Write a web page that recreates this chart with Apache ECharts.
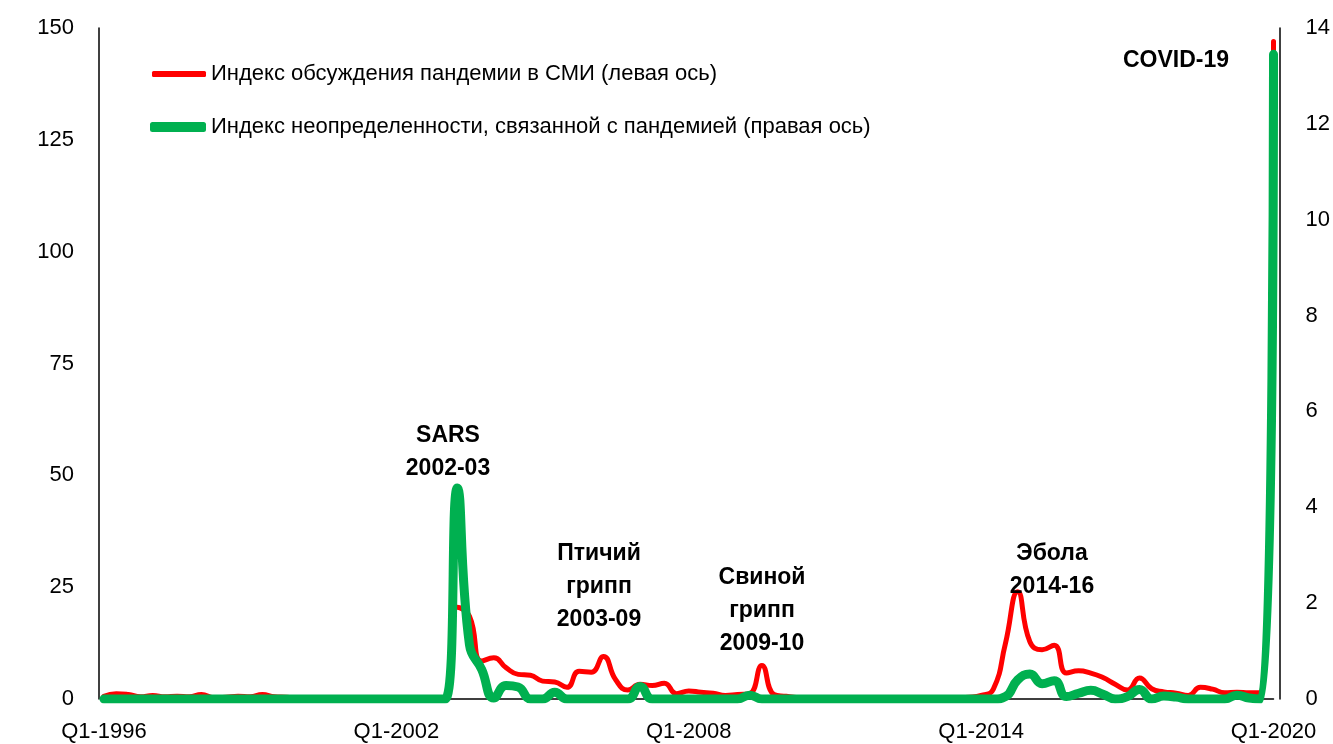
<!DOCTYPE html>
<html>
<head>
<meta charset="utf-8">
<script src="https://cdn.jsdelivr.net/npm/echarts@6/dist/echarts.min.js"></script>
<style>
  html, body { margin: 0; padding: 0; background: #ffffff; }
  #chart { width: 1333px; height: 744px; }
</style>
</head>
<body>
<div id="chart"></div>
<script>
// Quarterly categories, Q1-1996 .. Q1-2020
const quarters = [];
for (let y = 1996; y <= 2020; y++) {
  for (let q = 1; q <= 4; q++) {
    if (y === 2020 && q > 1) break;
    quarters.push('Q' + q + '-' + y);
  }
}

// Labels shown on the horizontal axis
const xTickLabels = ['Q1-1996', 'Q1-2002', 'Q1-2008', 'Q1-2014', 'Q1-2020'];

const seriesNames = [
  'Индекс обсуждения пандемии в СМИ (левая ось)',
  'Индекс неопределенности, связанной с пандемией (правая ось)'
];

// Pandemic discussion in the media (left axis), one value per quarter
const mediaIndex = [
  0.6, 1.2, 1.0, 0.5, 0.8, 0.5, 0.6, 0.5,      // 1996-1997
  1.0, 0.3, 0.4, 0.6, 0.5, 1.0, 0.5, 0.4,      // 1998-1999
  0.2, 0.1, 0.1, 0.1, 0.1, 0.1, 0.1, 0.1,      // 2000-2001
  0.1, 0.1, 0.1, 0.2, 0.3, 20.5, 18.5, 8.5,    // 2002-2003
  9.2, 7.0, 5.5, 5.3, 4.0, 3.8, 2.6, 6.2,      // 2004-2005
  6.0, 9.5, 4.3, 2.0, 3.3, 3.0, 3.5, 1.2,      // 2006-2007
  1.8, 1.5, 1.3, 0.8, 1.0, 1.2, 7.5, 1.0,      // 2008-2009
  0.6, 0.3, 0.2, 0.2, 0.2, 0.1, 0.2, 0.2,      // 2010-2011
  0.2, 0.2, 0.1, 0.2, 0.2, 0.2, 0.3, 0.4,      // 2012-2013
  0.8, 2.2, 12.5, 24.0, 12.8, 11.0, 12.0, 5.8, // 2014-2015
  6.3, 5.8, 4.8, 3.3, 2.0, 4.7, 2.3, 1.6,      // 2016-2017
  1.3, 0.8, 2.6, 2.2, 1.4, 1.5, 1.4, 1.5,      // 2018-2019
  147.0                                        // 2020 Q1
];

// Pandemic-related uncertainty (right axis), one value per quarter
const uncertaintyIndex = [
  0, 0, 0, 0, 0, 0, 0, 0,                      // 1996-1997
  0, 0, 0, 0, 0, 0, 0, 0,                      // 1998-1999
  0, 0, 0, 0, 0, 0, 0, 0,                      // 2000-2001
  0, 0, 0, 0, 0, 4.4, 1.13, 0.62,              // 2002-2003
  0.02, 0.28, 0.25, 0.0, 0.0, 0.14, 0, 0,      // 2004-2005
  0, 0, 0, 0, 0.26, 0, 0, 0,                   // 2006-2007
  0, 0, 0, 0, 0, 0.08, 0, 0,                   // 2008-2009
  0, 0, 0, 0, 0, 0, 0, 0,                      // 2010-2011
  0, 0, 0, 0, 0, 0, 0, 0,                      // 2012-2013
  0, 0, 0.05, 0.4, 0.52, 0.32, 0.38, 0.05,     // 2014-2015
  0.12, 0.18, 0.1, 0.0, 0.05, 0.2, 0.0, 0.06,  // 2016-2017
  0.04, 0, 0, 0, 0, 0.08, 0.02, 0,             // 2018-2019
  13.45                                        // 2020 Q1
];

// Episode captions (pixel centres on the canvas)
const episodeLabels = [
  { text: 'SARS\n2002-03',               x: 448,  y: 452 },
  { text: 'Птичий\nгрипп\n2003-09',      x: 599,  y: 587 },
  { text: 'Свиной\nгрипп\n2009-10',      x: 762,  y: 611 },
  { text: 'Эбола\n2014-16',              x: 1052, y: 570 },
  { text: 'COVID-19',                    x: 1176, y: 61 }
];

const FONT = "'Liberation Sans', Arial, sans-serif";
const RED = '#ff0000';
const GREEN = '#00b050';

const chart = echarts.init(document.getElementById('chart'), null, { renderer: 'canvas' });

const legendText = { color: '#000', fontSize: 22, fontFamily: FONT };

chart.setOption({
  backgroundColor: '#ffffff',
  animation: false,
  textStyle: { fontFamily: FONT },
  grid: { left: 104, right: 58, top: 28, bottom: 45, containLabel: false },
  legend: [
    {
      data: [{ name: seriesNames[0], icon: 'roundRect' }],
      left: 152, top: 63, padding: 0, itemWidth: 54, itemHeight: 6,
      textStyle: legendText, selectedMode: false
    },
    {
      data: [{ name: seriesNames[1], icon: 'roundRect' }],
      left: 150, top: 116, padding: 0, itemWidth: 56, itemHeight: 10,
      textStyle: legendText, selectedMode: false
    }
  ],
  xAxis: {
    type: 'category',
    data: quarters,
    boundaryGap: false,
    axisLine: { show: true, lineStyle: { color: '#000', width: 1.5 } },
    axisTick: { show: false },
    splitLine: { show: false },
    axisLabel: {
      interval: (idx, val) => xTickLabels.includes(val),
      color: '#000', fontSize: 22, fontFamily: FONT, margin: 22
    }
  },
  yAxis: [
    {
      type: 'value', min: 0, max: 150, interval: 25, offset: 5,
      axisLine: { show: true, lineStyle: { color: '#000', width: 1.5 } },
      axisTick: { show: false },
      splitLine: { show: false },
      axisLabel: { color: '#000', fontSize: 22, fontFamily: FONT, margin: 25 }
    },
    {
      type: 'value', min: 0, max: 14, interval: 2, offset: 6, position: 'right',
      axisLine: { show: true, lineStyle: { color: '#000', width: 1.5 } },
      axisTick: { show: false },
      splitLine: { show: false },
      axisLabel: { color: '#000', fontSize: 22, fontFamily: FONT, margin: 26 }
    }
  ],
  series: [
    {
      name: seriesNames[0],
      type: 'line',
      yAxisIndex: 0,
      data: mediaIndex,
      smooth: 0.5,
      symbol: 'none',
      itemStyle: { color: RED },
      lineStyle: { color: RED, width: 5, cap: 'round', join: 'round' },
      z: 2
    },
    {
      name: seriesNames[1],
      type: 'line',
      yAxisIndex: 1,
      data: uncertaintyIndex,
      smooth: 0.5,
      symbol: 'none',
      itemStyle: { color: GREEN },
      lineStyle: { color: GREEN, width: 9, cap: 'round', join: 'round' },
      z: 3
    }
  ],
  graphic: episodeLabels.map(l => ({
    type: 'text',
    x: l.x, y: l.y,
    z: 10,
    style: {
      text: l.text,
      fill: '#000',
      fontSize: 23,
      fontWeight: 'bold',
      fontFamily: FONT,
      lineHeight: 33,
      align: 'center',
      verticalAlign: 'middle'
    }
  }))
});
</script>
</body>
</html>
